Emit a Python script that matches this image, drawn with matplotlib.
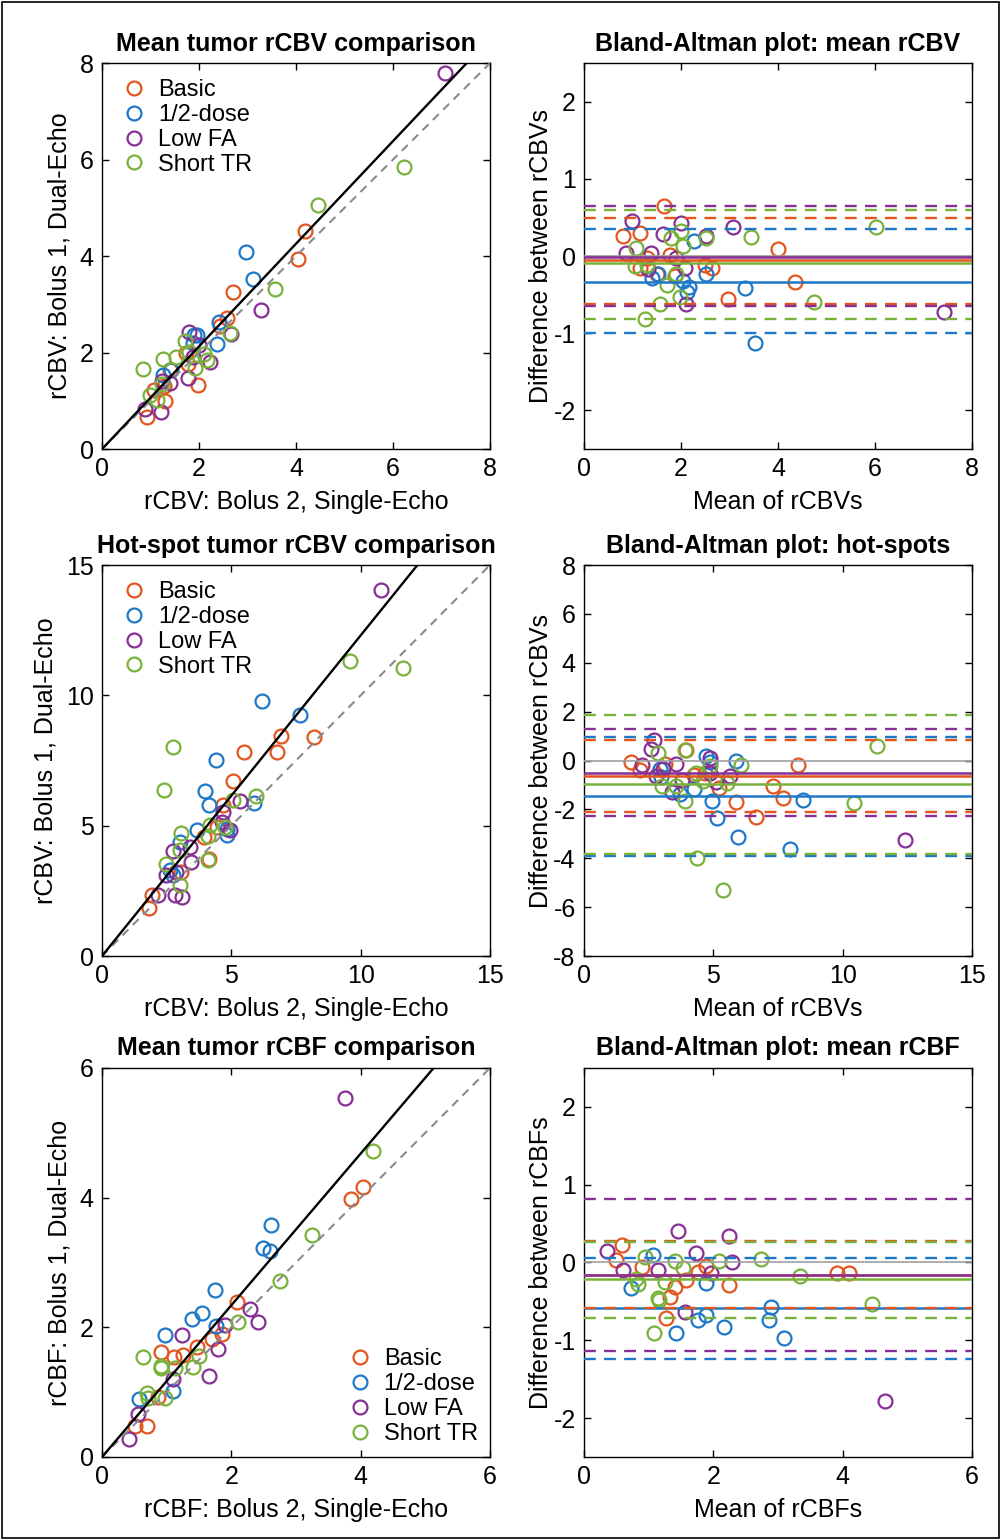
import matplotlib.pyplot as plt
from matplotlib.patches import Rectangle
import numpy as np

plt.rcParams['font.family'] = ['Liberation Sans', 'DejaVu Sans']
plt.rcParams['axes.unicode_minus'] = False

groups = ['Basic', '1/2-dose', 'Low FA', 'Short TR']
colors = ['#E2561E', '#1E78C8', '#862F94', '#79B23A']

# mean tumor rCBV: x = bolus 2 single-echo, y = bolus 1 dual-echo
cbv_basic_x = [4.18, 4.04, 2.70, 2.57, 2.44, 1.98, 0.93, 1.30, 1.40, 1.74, 1.78, 1.08, 1.28]
cbv_basic_y = [4.52, 3.95, 3.25, 2.72, 2.55, 1.33, 0.67, 1.00, 1.63, 2.00, 1.76, 1.23, 1.30]
cbv_half_x = [2.965, 3.115, 2.37, 2.405, 1.96, 1.895, 1.88, 1.255, 1.415]
cbv_half_y = [4.095, 3.525, 2.17, 2.635, 2.36, 2.365, 2.20, 1.545, 1.645]
cbv_lowfa_x = [7.065, 3.27, 1.225, 2.225, 1.765, 2.65, 0.88, 1.41, 1.875, 2.005, 1.80, 1.235]
cbv_lowfa_y = [7.795, 2.89, 0.775, 1.795, 1.475, 2.39, 0.84, 1.37, 1.905, 2.155, 2.42, 1.405]
cbv_short_x = [6.22, 4.45, 3.575, 0.845, 1.25, 1.705, 1.53, 2.17, 1.915, 2.105, 2.64, 1.135, 0.985, 1.235, 1.785]
cbv_short_y = [5.84, 5.05, 3.325, 1.655, 1.87, 2.235, 1.91, 1.85, 1.685, 1.975, 2.40, 1.025, 1.115, 1.345, 2.015]

# hot-spot tumor rCBV
hot_basic_x = [6.92, 8.19, 5.48, 6.77, 5.05, 4.66, 4.14, 1.95, 1.80, 3.94, 4.43, 3.07]
hot_basic_y = [8.45, 8.39, 7.81, 7.81, 6.73, 5.79, 3.71, 2.35, 1.85, 4.55, 4.96, 3.23]
hot_half_x = [6.17, 7.65, 4.40, 3.98, 4.14, 5.87, 4.82, 3.68, 3.01, 2.62, 2.755, 4.84]
hot_half_y = [9.78, 9.25, 7.52, 6.34, 5.79, 5.88, 4.64, 4.83, 4.38, 3.30, 3.105, 4.88]
hot_lowfa_x = [10.79, 5.33, 4.68, 4.62, 4.94, 3.40, 2.75, 3.46, 2.88, 2.49, 2.17, 2.81, 3.11]
hot_lowfa_y = [14.04, 5.96, 5.54, 5.15, 4.83, 4.19, 4.04, 3.62, 3.23, 3.11, 2.34, 2.34, 2.27]
hot_short_x = [9.59, 11.65, 2.75, 2.39, 5.97, 5.07, 4.75, 4.17, 4.10, 3.07, 3.01, 4.10, 2.49, 3.01]
hot_short_y = [11.32, 11.04, 8.03, 6.37, 6.14, 5.98, 4.96, 5.02, 4.60, 4.73, 4.07, 3.68, 3.53, 2.72]

# mean tumor rCBF
cbf_basic_x = [3.855, 4.035, 0.70, 0.515, 2.095, 0.915, 1.11, 1.70, 1.86, 0.86, 1.465, 1.25]
cbf_basic_y = [3.985, 4.165, 0.48, 0.485, 2.385, 1.625, 1.55, 1.82, 1.90, 0.92, 1.695, 1.57]
cbf_half_x = [2.615, 2.49, 2.605, 1.745, 1.54, 1.39, 0.975, 1.76, 1.105, 0.565]
cbf_half_y = [3.585, 3.23, 3.175, 2.575, 2.22, 2.13, 1.885, 2.02, 1.015, 0.895]
cbf_lowfa_x = [3.76, 1.65, 2.42, 0.425, 1.79, 2.295, 0.56, 1.24, 1.10, 1.90]
cbf_lowfa_y = [5.54, 1.25, 2.08, 0.275, 1.67, 2.285, 0.66, 1.88, 1.20, 2.04]
cbf_short_x = [4.185, 3.25, 2.75, 2.10, 0.635, 0.91, 0.92, 1.41, 0.975, 1.495, 0.705, 0.70, 1.125]
cbf_short_y = [4.715, 3.43, 2.71, 2.08, 1.545, 1.37, 1.40, 1.39, 0.905, 1.565, 0.915, 0.98, 1.375]

# Bland-Altman bias and limits of agreement, per group
cbv_bias = [-0.05, -0.33, -0.01, -0.09]
cbv_upper = [0.50, 0.345, 0.65, 0.60]
cbv_lower = [-0.62, -1.00, -0.64, -0.81]
hot_bias = [-0.62, -1.46, -0.49, -0.98]
hot_upper = [0.82, 0.98, 1.30, 1.87]
hot_lower = [-2.09, -3.90, -2.27, -3.83]
cbf_bias = [-0.16, -0.59, -0.163, -0.215]
cbf_upper = [0.27, 0.052, 0.817, 0.267]
cbf_lower = [-0.59, -1.24, -1.144, -0.71]

# slopes of the fitted lines through the origin
cbv_slope = 1.064
hot_slope = 1.23
cbf_slope = 1.17

cbv_x = [cbv_basic_x, cbv_half_x, cbv_lowfa_x, cbv_short_x]
cbv_y = [cbv_basic_y, cbv_half_y, cbv_lowfa_y, cbv_short_y]
hot_x = [hot_basic_x, hot_half_x, hot_lowfa_x, hot_short_x]
hot_y = [hot_basic_y, hot_half_y, hot_lowfa_y, hot_short_y]
cbf_x = [cbf_basic_x, cbf_half_x, cbf_lowfa_x, cbf_short_x]
cbf_y = [cbf_basic_y, cbf_half_y, cbf_lowfa_y, cbf_short_y]

FS = 18
MS = 10


def style(ax, title, xlabel, ylabel, ypad):
    ax.set_title(title, fontsize=FS, fontweight='bold', pad=9)
    ax.set_xlabel(xlabel, fontsize=FS, labelpad=6)
    ax.set_ylabel(ylabel, fontsize=FS, labelpad=ypad)
    ax.tick_params(direction='in', top=True, right=True, length=5, width=1, labelsize=FS, pad=6)
    for s in ax.spines.values():
        s.set_linewidth(1.0)


def comparison(ax, xs, ys, slope, lim, ticks, title, xlabel, ylabel, legend_loc, anchor):
    for x, y, c, g in zip(xs, ys, colors, groups):
        ax.plot(x, y, 'o', mfc='none', mec=c, mew=1.6, ms=MS, label=g)
    ax.plot([0, lim], [0, lim], color='#8a8a8a', lw=1.5, dashes=(4, 3), zorder=3)
    ax.plot([0, lim], [0, slope * lim], color='black', lw=1.7, zorder=4)
    ax.set_xlim(0, lim)
    ax.set_ylim(0, lim)
    ax.set_xticks(ticks)
    ax.set_yticks(ticks)
    style(ax, title, xlabel, ylabel, 6)
    ax.legend(loc=legend_loc, bbox_to_anchor=anchor, frameon=False, fontsize=17, handlelength=0.8,
              handletextpad=0.6, labelspacing=0.12, borderaxespad=0.2)


def bland_altman(ax, xs, ys, bias, upper, lower, xlim, yl, xticks, yticks, title, xlabel, ylabel):
    for x, y, c in zip(xs, ys, colors):
        x = np.array(x)
        y = np.array(y)
        ax.plot((x + y) / 2, x - y, 'o', mfc='none', mec=c, mew=1.6, ms=MS)
    ax.axhline(0, color='#a0a0a0', lw=1.2, zorder=3)
    for b, c in zip(bias, colors):
        ax.axhline(b, color=c, lw=1.8, zorder=4)
    for u, l, c in zip(upper, lower, colors):
        ax.axhline(u, color=c, lw=1.7, dashes=(5, 3.5), zorder=5)
        ax.axhline(l, color=c, lw=1.7, dashes=(5, 3.5), zorder=5)
    ax.set_xlim(0, xlim)
    ax.set_ylim(-yl, yl)
    ax.set_xticks(xticks)
    ax.set_yticks(yticks)
    style(ax, title, xlabel, ylabel, 0)


fig = plt.figure(figsize=(10.01, 15.40), dpi=100)
left, right = 0.1019, 0.5834
w = 0.3876
rows = [(0.7084, 0.2506), (0.3792, 0.2539), (0.0539, 0.2526)]

ax1 = fig.add_axes([left, rows[0][0], w, rows[0][1]])
ax2 = fig.add_axes([right, rows[0][0], w, rows[0][1]])
ax3 = fig.add_axes([left, rows[1][0], w, rows[1][1]])
ax4 = fig.add_axes([right, rows[1][0], w, rows[1][1]])
ax5 = fig.add_axes([left, rows[2][0], w, rows[2][1]])
ax6 = fig.add_axes([right, rows[2][0], w, rows[2][1]])

comparison(ax1, cbv_x, cbv_y, cbv_slope, 8, [0, 2, 4, 6, 8], 'Mean tumor rCBV comparison',
           'rCBV: Bolus 2, Single-Echo', 'rCBV: Bolus 1, Dual-Echo', 'upper left', (0.022, 0.995))
bland_altman(ax2, cbv_x, cbv_y, cbv_bias, cbv_upper, cbv_lower, 8, 2.5, [0, 2, 4, 6, 8],
             [-2, -1, 0, 1, 2], 'Bland-Altman plot: mean rCBV', 'Mean of rCBVs', 'Difference between rCBVs')
comparison(ax3, hot_x, hot_y, hot_slope, 15, [0, 5, 10, 15], 'Hot-spot tumor rCBV comparison',
           'rCBV: Bolus 2, Single-Echo', 'rCBV: Bolus 1, Dual-Echo', 'upper left', (0.022, 0.995))
bland_altman(ax4, hot_x, hot_y, hot_bias, hot_upper, hot_lower, 15, 8, [0, 5, 10, 15],
             [-8, -6, -4, -2, 0, 2, 4, 6, 8], 'Bland-Altman plot: hot-spots', 'Mean of rCBVs',
             'Difference between rCBVs')
comparison(ax5, cbf_x, cbf_y, cbf_slope, 6, [0, 2, 4, 6], 'Mean tumor rCBF comparison',
           'rCBF: Bolus 2, Single-Echo', 'rCBF: Bolus 1, Dual-Echo', 'lower right', (1.005, -0.005))
bland_altman(ax6, cbf_x, cbf_y, cbf_bias, cbf_upper, cbf_lower, 6, 2.5, [0, 2, 4, 6],
             [-2, -1, 0, 1, 2], 'Bland-Altman plot: mean rCBF', 'Mean of rCBFs', 'Difference between rCBFs')

fig.patches.append(Rectangle((0.002, 0.001), 0.996, 0.998, transform=fig.transFigure,
                             fill=False, edgecolor='black', lw=1.2))

fig.savefig('out.png', dpi=100)
